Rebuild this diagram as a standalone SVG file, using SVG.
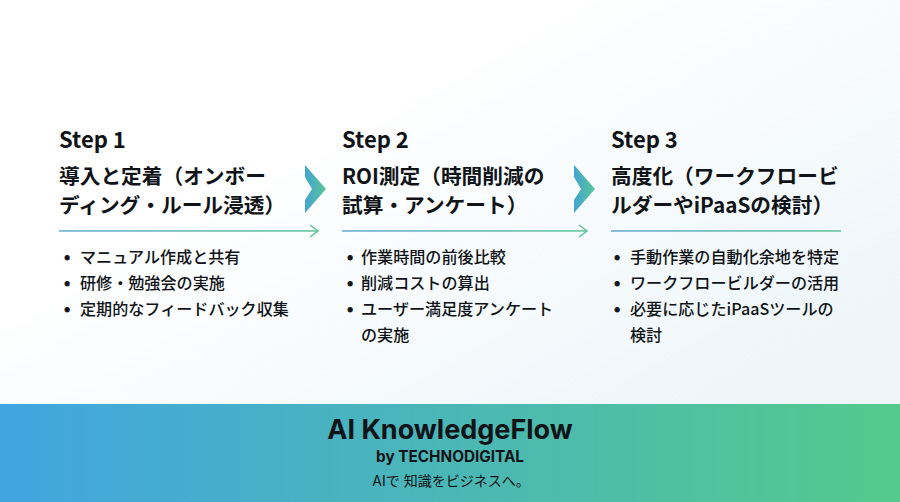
<svg xmlns="http://www.w3.org/2000/svg" width="900" height="502" viewBox="0 0 900 502">
<style>
text{font-family:"Noto Sans CJK JP","Noto Sans",sans-serif;fill:#101317}
.s{font-size:22px;font-weight:700}
.h{font-size:20.7px;font-weight:700}
.b{font-size:16.1px;font-weight:500}
.d{font-size:15px;font-weight:700;text-anchor:middle;stroke:#101317;stroke-width:0.9}
.a{fill:none;stroke:#5fc39a;stroke-width:1.5}
.f{font-family:Inter,"Noto Sans CJK JP",sans-serif;text-anchor:middle}
</style>
<defs>
<linearGradient id="bg" x1="0" y1="0" x2="1" y2="1"><stop offset="0.3" stop-color="#ffffff"/><stop offset="0.8" stop-color="#eef6fa"/></linearGradient>
<linearGradient id="band" x1="0" y1="0" x2="1" y2="0"><stop offset="0" stop-color="#41a5e0"/><stop offset="1" stop-color="#55c98c"/></linearGradient>
<linearGradient id="ln" x1="0" y1="0" x2="1" y2="0"><stop offset="0" stop-color="#62a9cf"/><stop offset="1" stop-color="#5fc39a"/></linearGradient>
<linearGradient id="ch" x1="0" y1="0" x2="1" y2="0"><stop offset="0" stop-color="#45a3d4"/><stop offset="1" stop-color="#58c795"/></linearGradient>
</defs>
<rect width="900" height="502" fill="url(#bg)"/>
<rect y="404" width="900" height="98" fill="url(#band)"/>
<g id="connectors">
<rect x="59" y="230.2" width="259" height="1.5" fill="url(#ln)"/>
<path class="a" d="M310 225L318 231L310 237"/>
<rect x="342" y="230.2" width="245" height="1.5" fill="url(#ln)"/>
<path class="a" d="M579 225L587 231L579 237"/>
<rect x="611" y="230.2" width="230" height="1.5" fill="url(#ln)"/>
<path id="chevron-1" d="M305 165L326 189L305 213V200L312 189L305 177Z" fill="url(#ch)"/>
<path id="chevron-2" d="M574 165L595 189L574 213V200L581 189L574 177Z" fill="url(#ch)"/>
</g>
<g id="step1">
<text class="s" x="59" y="148">Step 1</text>
<text class="h" x="59" y="184">導入と定着（オンボー</text>
<text class="h" x="59" y="213">ディング・ルール浸透）</text>
<text class="d" x="67" y="262">•</text><text class="b" x="80" y="263">マニュアル作成と共有</text>
<text class="d" x="67" y="288">•</text><text class="b" x="80" y="289">研修・勉強会の実施</text>
<text class="d" x="67" y="314">•</text><text class="b" x="80" y="315">定期的なフィードバック収集</text>
</g>
<g id="step2">
<text class="s" x="342" y="148">Step 2</text>
<text class="h" x="342" y="184">ROI測定（時間削減の</text>
<text class="h" x="342" y="213">試算・アンケート）</text>
<text class="d" x="350" y="262">•</text><text class="b" x="361" y="263">作業時間の前後比較</text>
<text class="d" x="350" y="288">•</text><text class="b" x="361" y="289">削減コストの算出</text>
<text class="d" x="350" y="314">•</text><text class="b" x="361" y="315">ユーザー満足度アンケート</text>
<text class="b" x="361" y="341">の実施</text>
</g>
<g id="step3">
<text class="s" x="611" y="148">Step 3</text>
<text class="h" x="611" y="184">高度化（ワークフロービ</text>
<text class="h" x="611" y="213">ルダーやiPaaSの検討）</text>
<text class="d" x="617" y="262">•</text><text class="b" x="630" y="263">手動作業の自動化余地を特定</text>
<text class="d" x="617" y="288">•</text><text class="b" x="630" y="289">ワークフロービルダーの活用</text>
<text class="d" x="617" y="314">•</text><text class="b" x="630" y="315">必要に応じたiPaaSツールの</text>
<text class="b" x="630" y="341">検討</text>
</g>
<g id="footer">
<text class="f" x="450" y="439" font-size="27" font-weight="700">AI KnowledgeFlow</text>
<text class="f" x="450" y="462" font-size="15.3" font-weight="700">by TECHNODIGITAL</text>
<text class="f" x="451" y="486" font-size="14">AIで 知識をビジネスへ。</text>
</g>
</svg>
